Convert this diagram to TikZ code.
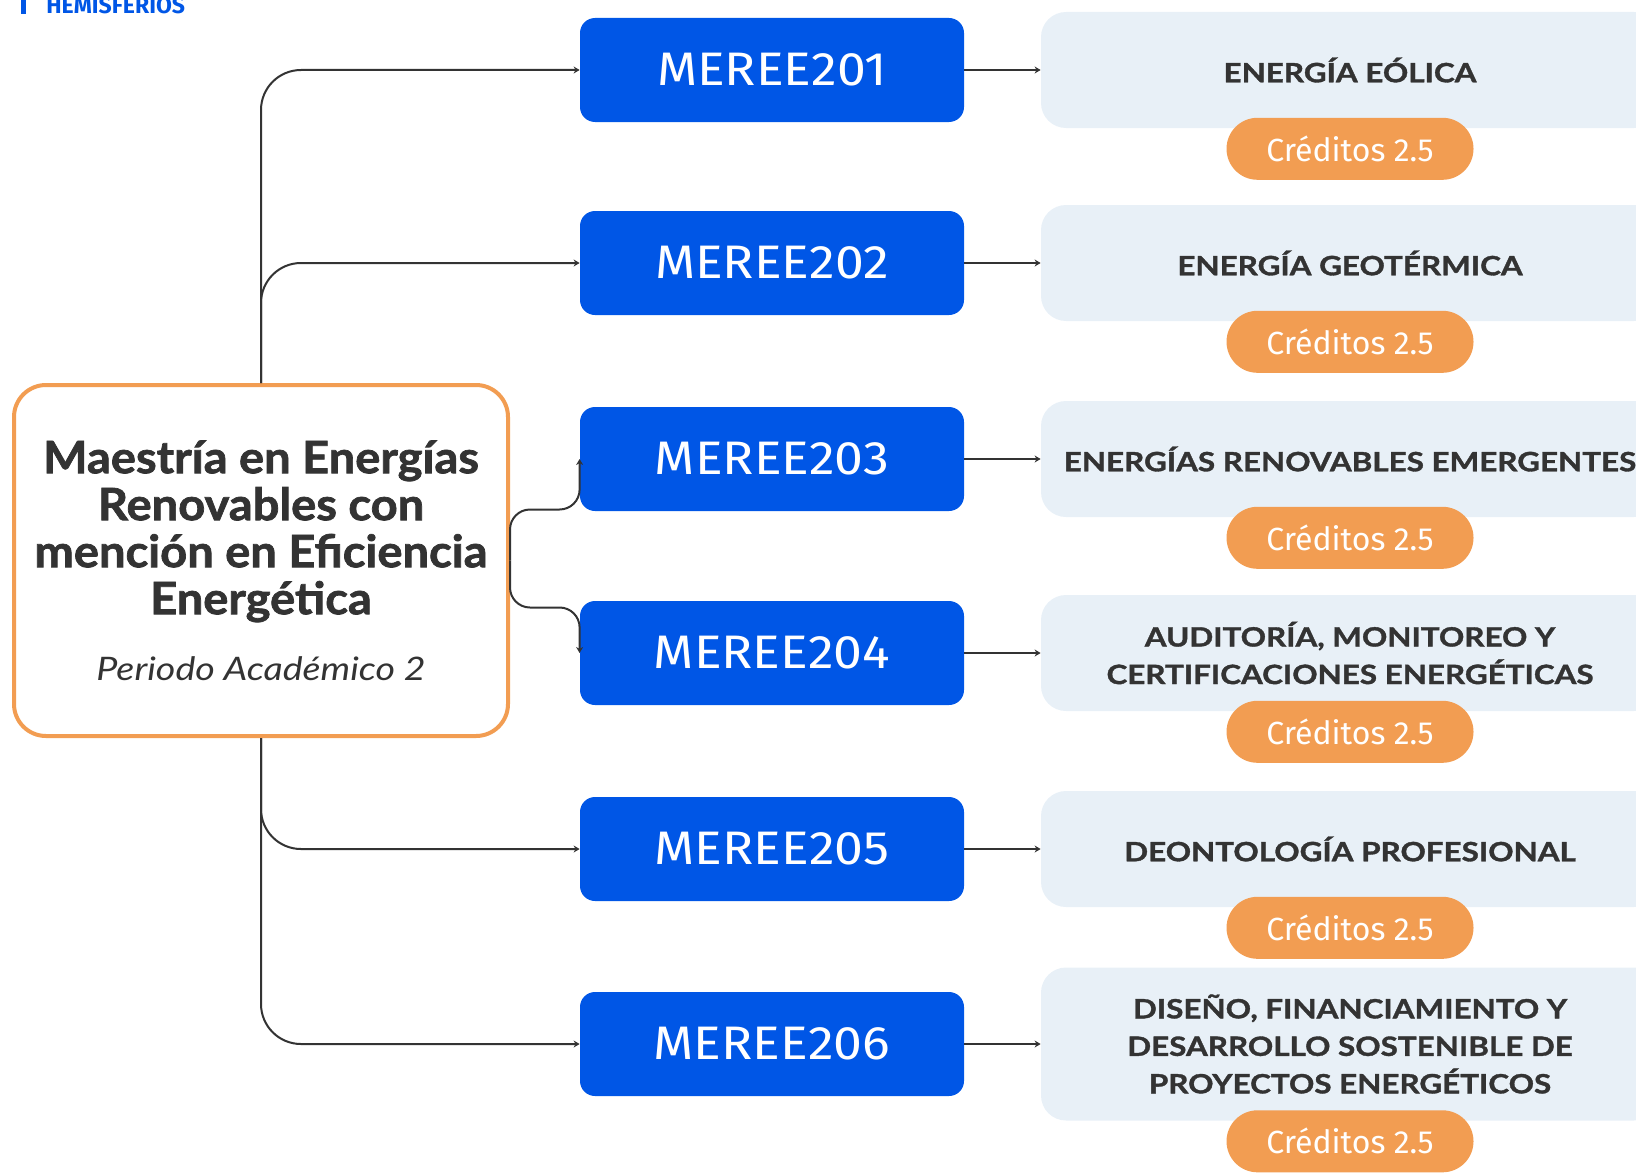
\documentclass[tikz,border=0pt]{standalone}
\usepackage{fontspec}
\setmainfont{Lato}
\newfontfamily\titfont[FakeStretch=1.055,BoldFeatures={FakeBold=1.6}]{Lato}
\newfontfamily\perfont[FakeStretch=1.16]{Lato}
\newfontfamily\codfont[FakeStretch=1.1]{Fira Sans}
\newfontfamily\temafont[FakeStretch=1.18,BoldFeatures={FakeBold=1.3}]{Lato}
\newfontfamily\credfont{Fira Sans}
\usepackage{tikz}
\usetikzlibrary{positioning}
\usetikzlibrary{arrows.meta}
\definecolor{azul}{RGB}{0,86,230}
\definecolor{naranja}{RGB}{242,157,82}
\definecolor{grisclaro}{RGB}{232,240,247}
\definecolor{oscuro}{RGB}{51,51,51}

\begin{document}
\begin{tikzpicture}[x=0.5pt,y=-0.5pt]

\tikzset{codigo/.style={
		fill=azul, rounded corners=7.5pt,
		minimum width=192pt, minimum height=52pt,
		text=white, font=\codfont\fontsize{23.5}{26}\selectfont,
		inner sep=0pt
	},
	tema/.style={
		fill=grisclaro, rounded corners=12.5pt,
		minimum width=309pt, minimum height=#1,
		text=oscuro, align=center,
		font=\temafont\bfseries\fontsize{13.3}{18.75}\selectfont,
		inner sep=0pt
	},
	tema/.default=58pt,
	credito/.style={
		fill=naranja, rounded corners=15.5pt,
		minimum width=123.5pt, minimum height=31pt,
		text=white, font=\credfont\fontsize{16}{19}\selectfont,
		inner sep=0pt
	},
	conector/.style={
		draw=oscuro, line width=1pt, rounded corners=20pt,
		-{Stealth[length=3pt,width=3.5pt]}
	}
}

\clip (0,0) rectangle (1636,1172);

%marca
\fill[azul] (21,-2) rectangle (26,14);
\node[anchor=base west, text=azul, inner sep=0pt,
	font=\credfont\bfseries\fontsize{11.5}{13}\selectfont] (marca) at (46,14) {HEMISFERIOS};

\node[draw=naranja, line width=2pt, rounded corners=16pt, fill=white,
	minimum width=247pt, minimum height=175.5pt,
	align=center, text=oscuro, inner sep=0pt,
	font=\titfont\bfseries\fontsize{22.3}{23.5}\selectfont] (centro) at (261,560.5)
	{Maestría en Energías\\Renovables con\\mención en Eficiencia\\Energética\\[9.5pt]{\perfont\mdseries\itshape\fontsize{16.2}{18}\selectfont Periodo Académico 2}};

\foreach \num/\posy/\alto/\txt in {
	201/70/58pt/{ENERGÍA EÓLICA},
	202/263/58pt/{ENERGÍA GEOTÉRMICA},
	203/459/58pt/{ENERGÍAS RENOVABLES EMERGENTES},
	204/653/58pt/{AUDITORÍA, MONITOREO Y\\CERTIFICACIONES ENERGÉTICAS},
	205/849/58pt/{DEONTOLOGÍA PROFESIONAL},
	206/1044/76.5pt/{DISEÑO, FINANCIAMIENTO Y\\DESARROLLO SOSTENIBLE DE\\PROYECTOS ENERGÉTICOS}}
{
	\node[codigo] (m\num) at (772,\posy) {MEREE\num};
	\node[tema=\alto] (t\num) at (1350,\posy) {\txt};
	\node[credito, below=-5.5pt of t\num] (c\num) {Créditos 2.5};
	\draw[conector] (m\num.east) -- (t\num.west);
}

\draw[conector] (centro.north) |- (m201.west);
\draw[conector] (centro.north) |- (m202.west);
\draw[conector, rounded corners=10pt] (centro.east) -- ++(0,-51) -| (m203.west);
\draw[conector, rounded corners=10pt] (centro.east) -- ++(0,47) -| (m204.west);
\draw[conector] (centro.south) |- (m205.west);
\draw[conector] (centro.south) |- (m206.west);
\end{tikzpicture}
\end{document}
